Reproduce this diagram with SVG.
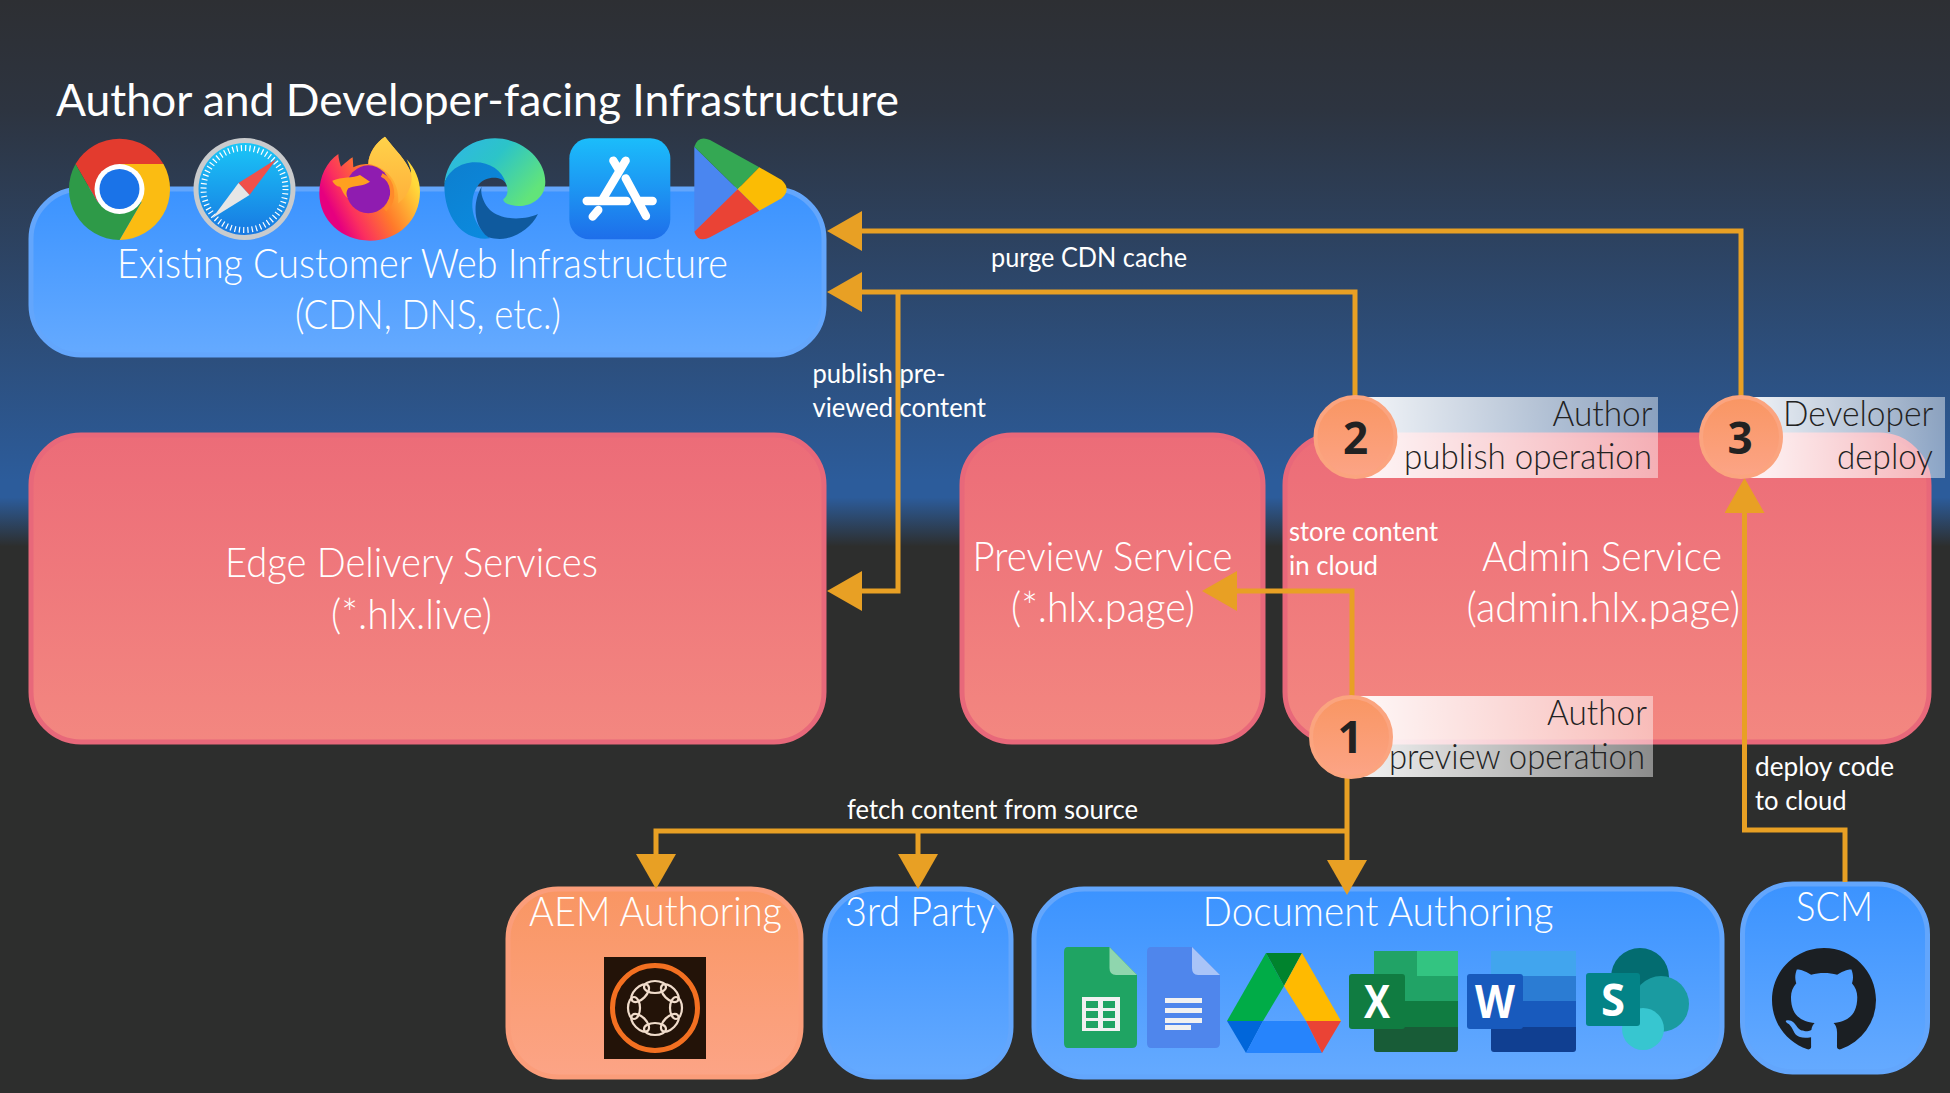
<svg xmlns="http://www.w3.org/2000/svg" width="1950" height="1093" viewBox="0 0 1950 1093">
<style>
text{font-family:"Lato","Open Sans","Liberation Sans",sans-serif;fill:#fff}
.t{font-size:45px;font-weight:400}
.l{font-size:41px;font-weight:300}
.s{font-size:27px;font-weight:400}
.c{font-size:35px;font-weight:300;fill:#222}
.n{font-size:44px;font-weight:700;fill:#222;text-anchor:middle;font-family:"Open Sans","Lato",sans-serif}
.b{fill:url(#blue);stroke:#63a6fc;stroke-width:5}
.r{fill:url(#red);stroke:#e8687a;stroke-width:5}
.o{fill:url(#orange);stroke:#fb9d7a;stroke-width:5}
.k{fill:none;stroke:#e8a024;stroke-width:5}
.d{fill:url(#orange);stroke:#fba47f;stroke-width:4}
.w{fill:#fff;font-weight:700;text-anchor:middle;font-family:"Open Sans","Liberation Sans",sans-serif}
</style>
<defs>
<linearGradient id="bg" x1="0" y1="0" x2="0" y2="1093" gradientUnits="userSpaceOnUse">
<stop offset="0" stop-color="#2d2f33"/><stop offset="0.1" stop-color="#2d3440"/><stop offset="0.44" stop-color="#2c5c9b"/><stop offset="0.455" stop-color="#2c5c9b"/><stop offset="0.5" stop-color="#2d2e2d"/><stop offset="1" stop-color="#2d2e2d"/>
</linearGradient>
<linearGradient id="blue" x1="0" y1="0" x2="0" y2="1"><stop offset="0" stop-color="#3b93ff"/><stop offset="1" stop-color="#65aaff"/></linearGradient>
<linearGradient id="red" x1="0" y1="0" x2="0" y2="1"><stop offset="0" stop-color="#ec6c78"/><stop offset="1" stop-color="#f38780"/></linearGradient>
<linearGradient id="orange" x1="0" y1="0" x2="0" y2="1"><stop offset="0" stop-color="#f99663"/><stop offset="1" stop-color="#fca486"/></linearGradient>
<linearGradient id="band"><stop offset="0" stop-color="#fff" stop-opacity="0.95"/><stop offset="1" stop-color="#fff" stop-opacity="0.45"/></linearGradient>
<linearGradient id="saf" x1="0" y1="0" x2="0" y2="1"><stop offset="0" stop-color="#1ac6f7"/><stop offset="1" stop-color="#1878e2"/></linearGradient>
<linearGradient id="app" x1="0" y1="0" x2="0" y2="1"><stop offset="0" stop-color="#1bbdfb"/><stop offset="1" stop-color="#1e6eea"/></linearGradient>
<linearGradient id="ff" x1="0.95" y1="0.45" x2="0.2" y2="0.85"><stop offset="0" stop-color="#ffd93a"/><stop offset="0.45" stop-color="#ff7a2b"/><stop offset="0.8" stop-color="#fb2f5f"/><stop offset="1" stop-color="#e6007f"/></linearGradient>
<linearGradient id="ffl" x1="0" y1="0" x2="0" y2="1"><stop offset="0" stop-color="#ffd24a"/><stop offset="1" stop-color="#ffb03a"/></linearGradient>
<linearGradient id="edg" x1="0" y1="0" x2="1" y2="0.6"><stop offset="0" stop-color="#2fb5e8"/><stop offset="0.5" stop-color="#2cc4c8"/><stop offset="1" stop-color="#62e47a"/></linearGradient>
<linearGradient id="edb" x1="0" y1="0" x2="0.6" y2="1"><stop offset="0" stop-color="#0d7fcf"/><stop offset="1" stop-color="#0b8ade"/></linearGradient>
<marker id="ah" viewBox="0 -20 35 40" refX="0" refY="0" markerWidth="35" markerHeight="40" markerUnits="userSpaceOnUse" orient="auto"><path d="M0,-20 L35,0 L0,20 Z" fill="#e8a024"/></marker>
<ellipse id="pt" cx="0" cy="-21" rx="11" ry="6" fill="none" stroke="#f0dccb" stroke-width="2.2"/>
</defs>
<rect width="1950" height="1093" fill="url(#bg)"/>
<text id="title" class="t" x="56" y="116" textLength="843" lengthAdjust="spacingAndGlyphs">Author and Developer-facing Infrastructure</text>

<g id="node-existing"><rect class="b" x="31" y="189" width="793" height="166" rx="50"/>
<text class="l" x="117" y="278" textLength="611" lengthAdjust="spacingAndGlyphs">Existing Customer Web Infrastructure</text>
<text class="l" x="295" y="329" textLength="266" lengthAdjust="spacingAndGlyphs">(CDN, DNS, etc.)</text></g>
<g id="icon-chrome" transform="translate(119.5,189)"><path d="M-44,-25A51,51 0 0 1 44,-25L0,-25L-22,13Z" fill="#e33b2e"/><path d="M44,-25A51,51 0 0 1 0,51L22,13L0,-25Z" fill="#fbbc12"/><path d="M-44,-25A51,51 0 0 0 0,51L22,13L-22,13Z" fill="#2e9a48"/><circle r="25" fill="#fff"/><circle r="20" fill="#1a73e8"/></g>
<g id="icon-safari" transform="translate(244.5,189)"><circle r="51" fill="#c9cbcd"/><circle r="46" fill="url(#saf)"/><circle r="41" fill="none" stroke="#fff" stroke-width="6" stroke-dasharray="1.2 3.1"/><path d="M32,-30L5,6L-6,-6Z" fill="#f0504a"/><path d="M-32,29L5,6L-6,-6Z" fill="#e6e6e6"/></g>
<g id="icon-firefox" transform="translate(310,130) scale(0.3333)">
<path d="M85,72C50,95 28,140 28,190C28,270 95,332 180,332C265,332 330,270 330,185C330,150 315,115 290,88C300,110 305,125 303,130C290,90 255,60 225,20C200,35 175,70 175,102C155,102 145,105 130,112L128,82C115,90 100,105 93,110C90,100 85,85 85,72Z" fill="url(#ff)"/>
<path d="M225,20C200,35 175,70 175,102C225,110 270,150 265,220C300,195 310,150 303,130C290,90 255,60 225,20Z" fill="url(#ffl)"/>
<ellipse cx="175" cy="178" rx="67" ry="72" fill="#8f1cb0"/>
<path d="M215,135C250,150 260,210 225,240" fill="none" stroke="#ff8a2a" stroke-width="12"/>
<path d="M67,152C95,140 130,145 150,135L180,155C160,170 130,165 115,175C105,190 110,200 115,205C100,195 95,175 90,170C80,170 70,160 67,152Z" fill="#ffa01f"/></g>
<g id="icon-edge" transform="translate(310,130) scale(0.3333)">
<path d="M403,165C410,80 480,25 555,25C640,25 706,90 706,155C706,200 670,228 625,228C595,228 578,215 580,208C600,195 595,160 575,145C540,115 470,100 430,125C415,135 405,150 403,165Z" fill="url(#edg)"/>
<path d="M403,165C410,125 450,97 495,97C540,97 575,120 588,160C570,135 525,140 505,165C475,205 480,280 540,325C460,335 403,265 403,165Z" fill="url(#edb)"/>
<path d="M515,170C490,210 485,285 535,322C555,328 575,328 590,325C630,315 665,290 684,252C650,268 580,275 540,240C520,220 510,190 515,170Z" fill="#0f5a9e"/></g>
<g id="icon-appstore" transform="translate(560,130) scale(0.3333)"><rect x="28" y="25" width="303" height="303" rx="60" fill="url(#app)"/><path d="M197,92L125,213M115,240L98,260M160,92L178,122M197,145L258,258M80,213H200M235,213H278" fill="none" stroke="#fff" stroke-width="25" stroke-linecap="round"/></g>
<g id="icon-play" transform="translate(560,130) scale(0.3333)"><path d="M403,50L533,178L403,305Z" fill="#4a86f0"/><path d="M403,50Q415,15 450,30L598,112L533,178Z" fill="#34a853"/><path d="M598,112L665,150Q695,178 665,205L598,242L533,178Z" fill="#fbbc04"/><path d="M533,178L598,242L450,322Q415,340 403,305Z" fill="#ea4335"/></g>

<g id="node-edge"><rect class="r" x="31" y="435" width="793" height="307" rx="50"/>
<text class="l" x="225" y="577" textLength="373" lengthAdjust="spacingAndGlyphs">Edge Delivery Services</text>
<text class="l" x="331" y="629" textLength="161" lengthAdjust="spacingAndGlyphs">(*.hlx.live)</text></g>
<g id="node-preview"><rect class="r" x="962" y="435" width="301" height="307" rx="50"/>
<text class="l" x="972.500" y="571" textLength="260" lengthAdjust="spacingAndGlyphs">Preview Service</text>
<text class="l" x="1011" y="622" textLength="184" lengthAdjust="spacingAndGlyphs">(*.hlx.page)</text></g>
<g id="node-admin"><rect class="r" x="1285" y="435" width="644" height="307" rx="50"/>
<text class="l" x="1482" y="571" textLength="240" lengthAdjust="spacingAndGlyphs">Admin Service</text>
<text class="l" x="1466.500" y="622" textLength="273.500" lengthAdjust="spacingAndGlyphs">(admin.hlx.page)</text></g>

<g id="node-aem"><rect class="o" x="508" y="889" width="293" height="188" rx="50"/>
<text class="l" x="529" y="926" textLength="253" lengthAdjust="spacingAndGlyphs">AEM Authoring</text>
<rect x="604" y="957" width="102" height="102" fill="#231308"/><circle cx="655" cy="1008" r="42.500" fill="none" stroke="#f37021" stroke-width="5"/>
<g transform="translate(655,1008)"><use href="#pt"/><use href="#pt" transform="rotate(45)"/><use href="#pt" transform="rotate(90)"/><use href="#pt" transform="rotate(135)"/><use href="#pt" transform="rotate(180)"/><use href="#pt" transform="rotate(225)"/><use href="#pt" transform="rotate(270)"/><use href="#pt" transform="rotate(315)"/></g></g>
<g id="node-third"><rect class="b" x="825" y="889" width="186" height="188" rx="50"/>
<text class="l" x="845" y="926" textLength="150" lengthAdjust="spacingAndGlyphs">3rd Party</text></g>
<g id="node-doc"><rect class="b" x="1034" y="889" width="688" height="188" rx="50"/>
<text class="l" x="1202.500" y="926" textLength="351" lengthAdjust="spacingAndGlyphs">Document Authoring</text>
<g id="icon-sheets"><path d="M1068,947H1109.500L1137,975V1043Q1137,1048 1132,1048H1068Q1064,1048 1064,1043V952Q1064,947 1068,947Z" fill="#1fa463"/><path d="M1109.500,947V968Q1109.500,975 1116,975H1137Z" fill="#8fd6ae"/><rect x="1082" y="997" width="38" height="34" fill="#f1f1f1"/><path d="M1086,1001h12v7h-12zM1103,1001h12v7h-12zM1086,1011h12v7h-12zM1103,1011h12v7h-12zM1086,1021h12v7h-12zM1103,1021h12v7h-12z" fill="#1fa463"/></g>
<g id="icon-docs"><path d="M1151,947H1192L1220,975V1043Q1220,1048 1215,1048H1151Q1147,1048 1147,1043V952Q1147,947 1151,947Z" fill="#4f86ec"/><path d="M1192,947V968Q1192,975 1198,975H1220Z" fill="#a9c4f8"/><path d="M1165,998h37v5h-37zM1165,1008h37v5h-37zM1165,1018h37v5h-37zM1165,1025h26v5h-26z" fill="#f1f1f1"/></g>
<g id="icon-drive" transform="translate(-1,0)"><path d="M1267,953L1285,986L1264,1021H1228Z" fill="#00ac47"/><path d="M1267,953H1303L1285,986Z" fill="#00832d"/><path d="M1303,953L1342,1021H1307L1285,986Z" fill="#ffba00"/><path d="M1228,1021H1264L1247,1053Z" fill="#0066da"/><path d="M1264,1021H1307L1323,1053H1247Z" fill="#2684fc"/><path d="M1307,1021H1342L1323,1053Z" fill="#ea4335"/></g>
<g id="icon-excel" transform="translate(-2,0)"><rect x="1376" y="951" width="84" height="101" rx="3" fill="#185c37"/><path d="M1376,951H1419V1001H1376Z" fill="#21a366"/><path d="M1419,951H1460V976H1419Z" fill="#33c481"/><path d="M1419,976H1460V1001H1419Z" fill="#21a366"/><path d="M1376,1001H1460V1027H1376Z" fill="#107c41"/><rect x="1351" y="974" width="56" height="55" rx="3" fill="#107c41"/><text class="w" x="1379" y="1018" font-size="46" textLength="26" lengthAdjust="spacingAndGlyphs">X</text></g>
<g id="icon-word" transform="translate(-3,0)"><rect x="1494" y="951" width="85" height="101" rx="3" fill="#103f91"/><rect x="1494" y="951" width="85" height="25" fill="#41a5ee"/><rect x="1494" y="976" width="85" height="25" fill="#2b7cd3"/><rect x="1494" y="1001" width="85" height="26" fill="#185abd"/><rect x="1470" y="974" width="56" height="55" rx="3" fill="#185abd"/><text class="w" x="1498" y="1018" font-size="46" textLength="40" lengthAdjust="spacingAndGlyphs">W</text></g>
<g id="icon-sharepoint" transform="translate(-3,0)"><circle cx="1643" cy="977" r="29" fill="#036c70"/><circle cx="1664" cy="1004" r="28" fill="#1a9ba1"/><circle cx="1646" cy="1029" r="21" fill="#37c6d0"/><rect x="1589" y="973" width="54" height="53" rx="3" fill="#038387"/><text class="w" x="1616" y="1016" font-size="44" textLength="24" lengthAdjust="spacingAndGlyphs">S</text></g></g>
<g id="node-scm"><rect class="b" x="1742.500" y="884" width="185" height="188" rx="50"/>
<text class="l" x="1796" y="921" textLength="77" lengthAdjust="spacingAndGlyphs">SCM</text>
<path transform="translate(1772,948) scale(6.500)" fill="#1b1f23" d="M8 0C3.58 0 0 3.58 0 8c0 3.54 2.29 6.53 5.47 7.59.4.07.55-.17.55-.38 0-.19-.01-.82-.01-1.49-2.01.37-2.53-.49-2.69-.94-.09-.23-.48-.94-.82-1.13-.28-.15-.68-.52-.01-.53.63-.01 1.08.58 1.23.82.72 1.21 1.87.87 2.33.66.07-.52.28-.87.51-1.07-1.78-.2-3.64-.89-3.64-3.95 0-.87.31-1.59.82-2.15-.08-.2-.36-1.02.08-2.12 0 0 .67-.21 2.2.82.64-.18 1.32-.27 2-.27.68 0 1.36.09 2 .27 1.53-1.04 2.2-.82 2.2-.82.44 1.1.16 1.92.08 2.12.51.56.82 1.27.82 2.15 0 3.07-1.87 3.75-3.65 3.95.29.25.54.73.54 1.48 0 1.07-.01 1.93-.01 2.2 0 .21.15.46.55.38A8.013 8.013 0 0016 8c0-4.42-3.58-8-8-8z"/></g>

<g id="callout-bands">
<rect x="1357" y="397" width="301" height="81" fill="url(#band)"/>
<rect x="1741" y="397" width="204" height="81" fill="url(#band)"/>
<rect x="1352" y="696" width="301" height="81" fill="url(#band)"/>
</g>

<g id="connectors">
<path class="k" d="M1741,400V231H862" marker-end="url(#ah)"/>
<path class="k" d="M1355,400V292H862" marker-end="url(#ah)"/>
<path class="k" d="M898,292V591H862" marker-end="url(#ah)"/>
<path class="k" d="M1352,700V591H1237" marker-end="url(#ah)"/>
<path class="k" d="M1347,770V860" marker-end="url(#ah)"/>
<path class="k" d="M1347,831H656V854" marker-end="url(#ah)"/>
<path class="k" d="M918,831V854" marker-end="url(#ah)"/>
<path class="k" d="M1845,882V830H1744.500V513" marker-end="url(#ah)"/>
</g>

<g id="labels">
<text class="s" x="991" y="267" textLength="196" lengthAdjust="spacingAndGlyphs">purge CDN cache</text>
<text class="s" x="812.500" y="383" textLength="133" lengthAdjust="spacingAndGlyphs">publish pre-</text>
<text class="s" x="812.500" y="417" textLength="173.500" lengthAdjust="spacingAndGlyphs">viewed content</text>
<text class="s" x="1289" y="541" textLength="149" lengthAdjust="spacingAndGlyphs">store content</text>
<text class="s" x="1289" y="575" textLength="89" lengthAdjust="spacingAndGlyphs">in cloud</text>
<text class="s" x="1755" y="776" textLength="139" lengthAdjust="spacingAndGlyphs">deploy code</text>
<text class="s" x="1755" y="810" textLength="91.500" lengthAdjust="spacingAndGlyphs">to cloud</text>
<text class="s" x="847" y="819" textLength="291" lengthAdjust="spacingAndGlyphs">fetch content from source</text>
</g>

<g id="step-2"><ellipse class="d" cx="1355.500" cy="437" rx="40" ry="40"/><text class="n" x="1355.500" y="454">2</text>
<text class="c" x="1552.500" y="426" textLength="100" lengthAdjust="spacingAndGlyphs">Author</text>
<text class="c" x="1404" y="469" textLength="248" lengthAdjust="spacingAndGlyphs">publish operation</text></g>
<g id="step-3"><ellipse class="d" cx="1741" cy="437" rx="40" ry="40"/><text class="n" x="1740" y="454">3</text>
<text class="c" x="1783" y="426" textLength="150.500" lengthAdjust="spacingAndGlyphs">Developer</text>
<text class="c" x="1837" y="469" textLength="96" lengthAdjust="spacingAndGlyphs">deploy</text></g>
<g id="step-1"><ellipse class="d" cx="1351" cy="737" rx="40" ry="40"/><text class="n" x="1350" y="753">1</text>
<text class="c" x="1547" y="725" textLength="100" lengthAdjust="spacingAndGlyphs">Author</text>
<text class="c" x="1389" y="769" textLength="256" lengthAdjust="spacingAndGlyphs">preview operation</text></g>
</svg>
